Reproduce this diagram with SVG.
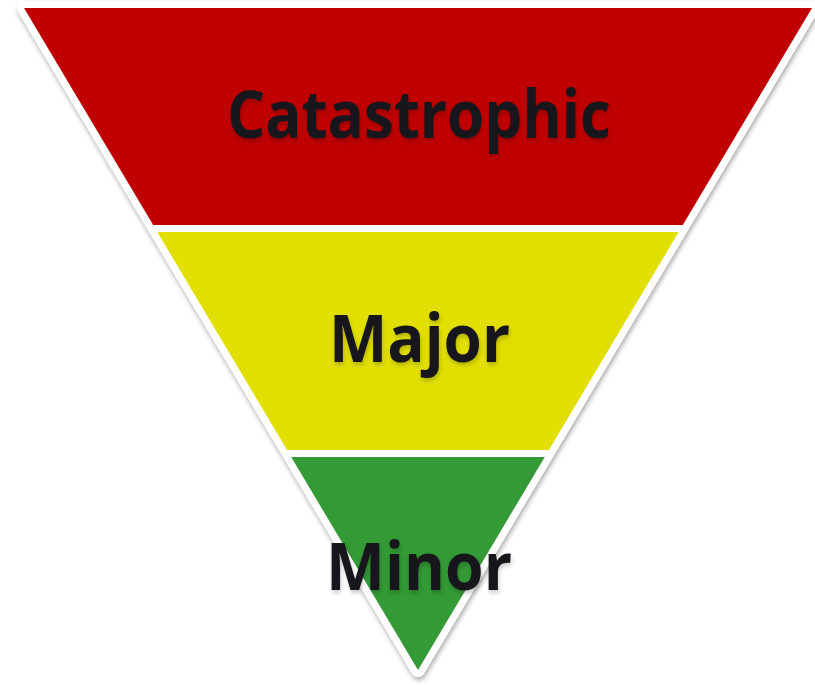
<svg xmlns="http://www.w3.org/2000/svg" width="815" height="685" viewBox="0 0 815 685">
<defs>
<filter id="sh" x="-10%" y="-10%" width="120%" height="120%">
<feDropShadow dx="1" dy="3" stdDeviation="2.5" flood-color="#000" flood-opacity="0.35"/>
</filter>
<filter id="tsh" x="-10%" y="-10%" width="120%" height="130%">
<feDropShadow dx="1" dy="3" stdDeviation="2" flood-color="#000" flood-opacity="0.2"/>
</filter>
<style>
.lbl{font-family:"Open Sans","Noto Sans","Liberation Sans",sans-serif;font-weight:bold;fill:#15181a;font-size:67px}
</style>
</defs>
<rect width="815" height="685" fill="#fff"/>
<polygon points="24,8 812,8 418,670" fill="#fff" stroke="#fff" stroke-width="14" stroke-linejoin="round" filter="url(#sh)"/>
<g id="catastrophic">
<polygon points="24,8 812,8 682.8,225 153.2,225" fill="#c00000"/>
<text class="lbl" x="227" y="138" textLength="384" lengthAdjust="spacingAndGlyphs" filter="url(#tsh)">Catastrophic</text>
</g>
<g id="major">
<polygon points="157.3,232 678.7,232 548.9,450 287.1,450" fill="#e2df00"/>
<text class="lbl" x="329" y="362" textLength="181" lengthAdjust="spacingAndGlyphs" filter="url(#tsh)">Major</text>
</g>
<g id="minor">
<polygon points="291.2,457 544.8,457 418,670" fill="#339a35"/>
<text class="lbl" x="326" y="590" textLength="186" lengthAdjust="spacingAndGlyphs" filter="url(#tsh)">Minor</text>
</g>
</svg>
